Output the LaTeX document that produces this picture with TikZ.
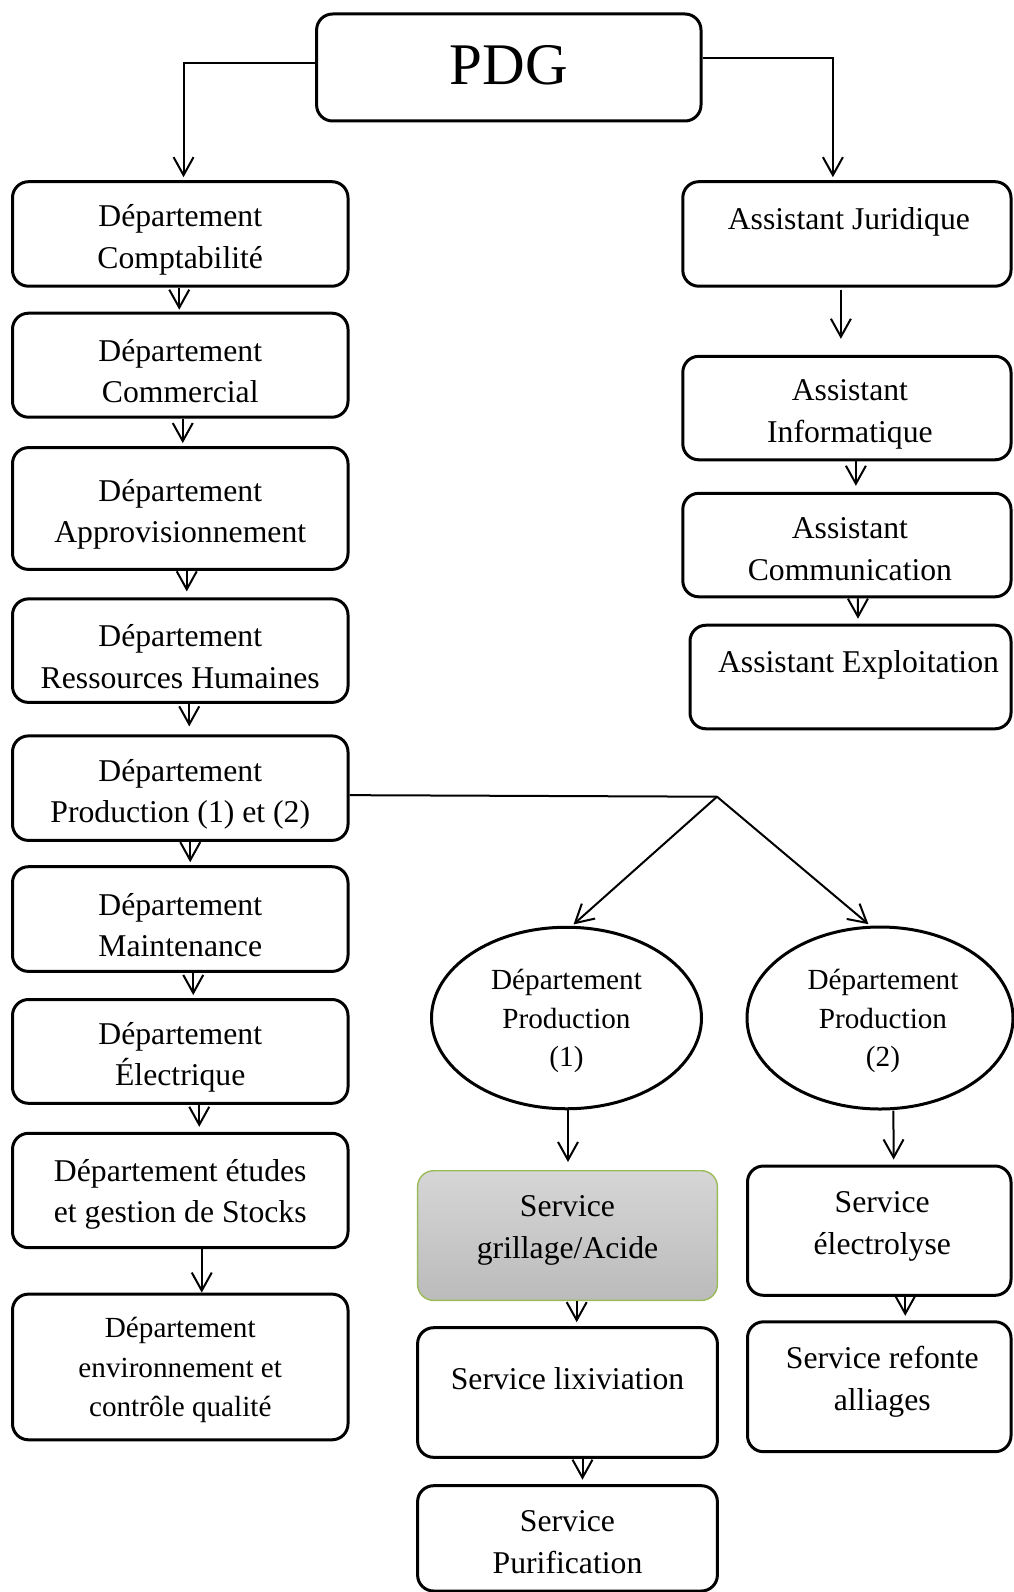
\documentclass[tikz,border=0pt]{standalone}
\usepackage{fontspec}
\setmainfont{Liberation Serif}
\usetikzlibrary{arrows.meta,shapes.geometric}
\definecolor{greyTop}{HTML}{D6D6D6}
\definecolor{greyBottom}{HTML}{BBBBBB}
\definecolor{leafGreen}{HTML}{9BBB59}
% \orgbox[box options]{name}{x1}{y1}{x2}{y2}{text options}{text}:
% a rounded box given by its corners, with its label placed on its centre
\newcommand\orgbox[8][]{%
  \node[box,minimum width={(#5-#3)*1pt},minimum height={(#6-#4)*1pt},#1] (#2) at ({(#3+#5)/2},{(#4+#6)/2}) {};
  \node[boxtext,#7] (#2-text) at (#2.center) {#8};}
\begin{document}
\begin{tikzpicture}[x=1pt,y=-1pt,
  box/.style={draw,line width=3pt,rounded corners=16pt,inner sep=0pt},
  boxtext/.style={align=center,inner sep=0pt,font=\fontsize{31.7}{41.6}\selectfont},
  smalltext/.style={font=\fontsize{29.2}{39.4}\selectfont},
  ovaltext/.style={font=\fontsize{29.2}{38.6}\selectfont},
  oval/.style={draw,ellipse,line width=3pt,inner sep=0pt},
  link/.style={line width=2pt,-{Straight Barb[length=18pt,width=20pt]}},
  plain/.style={line width=2pt}]
\useasboundingbox (0,0) rectangle (1013,1592);

% top of the chart
\orgbox{pdg}{316.6}{14}{701}{121}{font=\fontsize{59}{70}\selectfont,yshift=2pt}{PDG}

% left column: departments
\orgbox{b1}{12.5}{181.7}{348}{286.2}{yshift=-6pt}{Département\\Comptabilité}
\orgbox{b2}{12.5}{313.2}{348}{417.2}{yshift=-6pt}{Département\\Commercial}
\orgbox{b3}{12.5}{447.6}{348}{569.4}{yshift=-6pt}{Département\\Approvisionnement}
\orgbox{b4}{12.5}{598.9}{348}{702.4}{yshift=-6pt}{Département\\Ressources Humaines}
\orgbox{b5}{12.5}{735.9}{348}{840.4}{yshift=-6pt}{Département\\Production (1) et (2)}
\orgbox{b6}{12.5}{866.7}{348}{971.4}{yshift=-6pt}{Département\\Maintenance}
\orgbox{b7}{12.5}{999.5}{348}{1103.3}{yshift=-6pt}{Département\\Électrique}
\orgbox{b8}{12.5}{1133.3}{348}{1247.7}{yshift=-4pt}{Département études\\et gestion de Stocks}
\orgbox{b9}{12.5}{1294.1}{348}{1439.8}{smalltext,yshift=-3pt}{Département\\environnement et\\contrôle qualité}

% right column: assistants
\orgbox{jur}{682.8}{181.7}{1011}{286.2}{yshift=-5pt,xshift=2pt}{Assistant Juridique\\\mbox{}}
\orgbox{info}{682.8}{356.3}{1011}{459.8}{yshift=-6.5pt,xshift=3pt}{Assistant\\Informatique}
\orgbox{comm}{682.8}{493.3}{1011}{596.8}{yshift=-4pt,xshift=3pt}{Assistant\\Communication}
\orgbox{expl}{690}{625.2}{1011}{728.8}{yshift=-5pt,xshift=8pt}{Assistant Exploitation\\\mbox{}}

% production branches
\node[oval,minimum width=270pt,minimum height=181.5pt] (e1) at (566.5,1018) {};
\node[boxtext,ovaltext,yshift=-3pt] (e1-text) at (e1.center) {Département\\Production\\(1)};
\node[oval,minimum width=266pt,minimum height=182pt] (e2) at (880,1018) {};
\node[boxtext,ovaltext,yshift=-3pt,xshift=3pt] (e2-text) at (e2.center) {Département\\Production\\(2)};

\orgbox[draw=leafGreen,line width=1.4pt,top color=greyTop,bottom color=greyBottom]{gray}{417.6}{1170.7}{717.4}{1300.4}{yshift=5pt}{Service\\grillage/Acide}
\orgbox{lix}{417.6}{1327.7}{717.4}{1457.3}{yshift=-7pt}{Service lixiviation\\\mbox{}}
\orgbox{pur}{417.6}{1485.7}{717.4}{1591}{yshift=-4pt}{Service\\Purification}
\orgbox{elec}{747.5}{1166}{1011}{1295.3}{yshift=4pt,xshift=3pt}{Service\\électrolyse}
\orgbox{ref}{747.5}{1321.8}{1011}{1451.7}{yshift=5pt,xshift=3pt}{Service refonte\\alliages}

% connectors from the top box
\draw[link,shorten >=3pt] ([yshift=4.4pt]pdg.west) -| ([xshift=3.3pt]b1.north);
\draw[link,shorten >=3pt] ([yshift=9pt]pdg.east) -| ([xshift=-14pt]jur.north);

% left column chain
\draw[link,shorten >=2pt] ([xshift=-1pt]b1.south) -- ([xshift=-1pt]b2.north);
\draw[link,shorten >=3pt] ([xshift=2.5pt]b2.south) -- ([xshift=2.5pt]b3.north);
\draw[link,shorten >=6pt] ([xshift=6.5pt]b3.south) -- ([xshift=6.5pt]b4.north);
\draw[link,shorten >=8pt] ([xshift=9pt]b4.south) -- ([xshift=9pt]b5.north);
\draw[link,shorten >=3pt] ([xshift=10pt]b5.south) -- ([xshift=10pt]b6.north);
\draw[link,shorten >=3pt] ([xshift=13pt]b6.south) -- ([xshift=13pt]b7.north);
\draw[link,shorten >=5pt] ([xshift=19pt]b7.south) -- ([xshift=19pt]b8.north);
\draw[link] ([xshift=21.5pt]b8.south) -- ([xshift=21.5pt]b9.north);

% right column chain
\draw[link,shorten <=2pt,shorten >=16pt] ([xshift=-6pt]jur.south) -- ([xshift=-6pt]info.north);
\draw[link,shorten >=6pt] ([xshift=9pt]info.south) -- ([xshift=9pt]comm.north);
\draw[link,shorten >=5pt] ([xshift=11pt]comm.south) -- ([xshift=7.5pt]expl.north);

% split towards the two production departments
\coordinate (split) at (717,796.7);
\draw[plain] ([yshift=-7pt]b5.east) -- (split);
\draw[link,shorten >=2pt] (split) -- ([xshift=5.5pt]e1.north);
\draw[link,shorten >=2pt] (split) -- ([xshift=-10pt]e2.north);

% services under each production department
\draw[link,shorten >=8pt] ([xshift=1.5pt]e1.south) -- ([xshift=0.5pt]gray.north);
\draw[link,shorten >=5pt] ([xshift=13.4pt]e2.south) -- ([xshift=14.4pt]elec.north);
\draw[link,shorten >=4pt] ([xshift=9.2pt]gray.south) -- ([xshift=9.2pt]lix.north);
\draw[link,shorten >=4.5pt] ([xshift=15pt]lix.south) -- ([xshift=15pt]pur.north);
\draw[link,shorten >=4.5pt] ([xshift=26pt]elec.south) -- ([xshift=26pt]ref.north);
\end{tikzpicture}
\end{document}
